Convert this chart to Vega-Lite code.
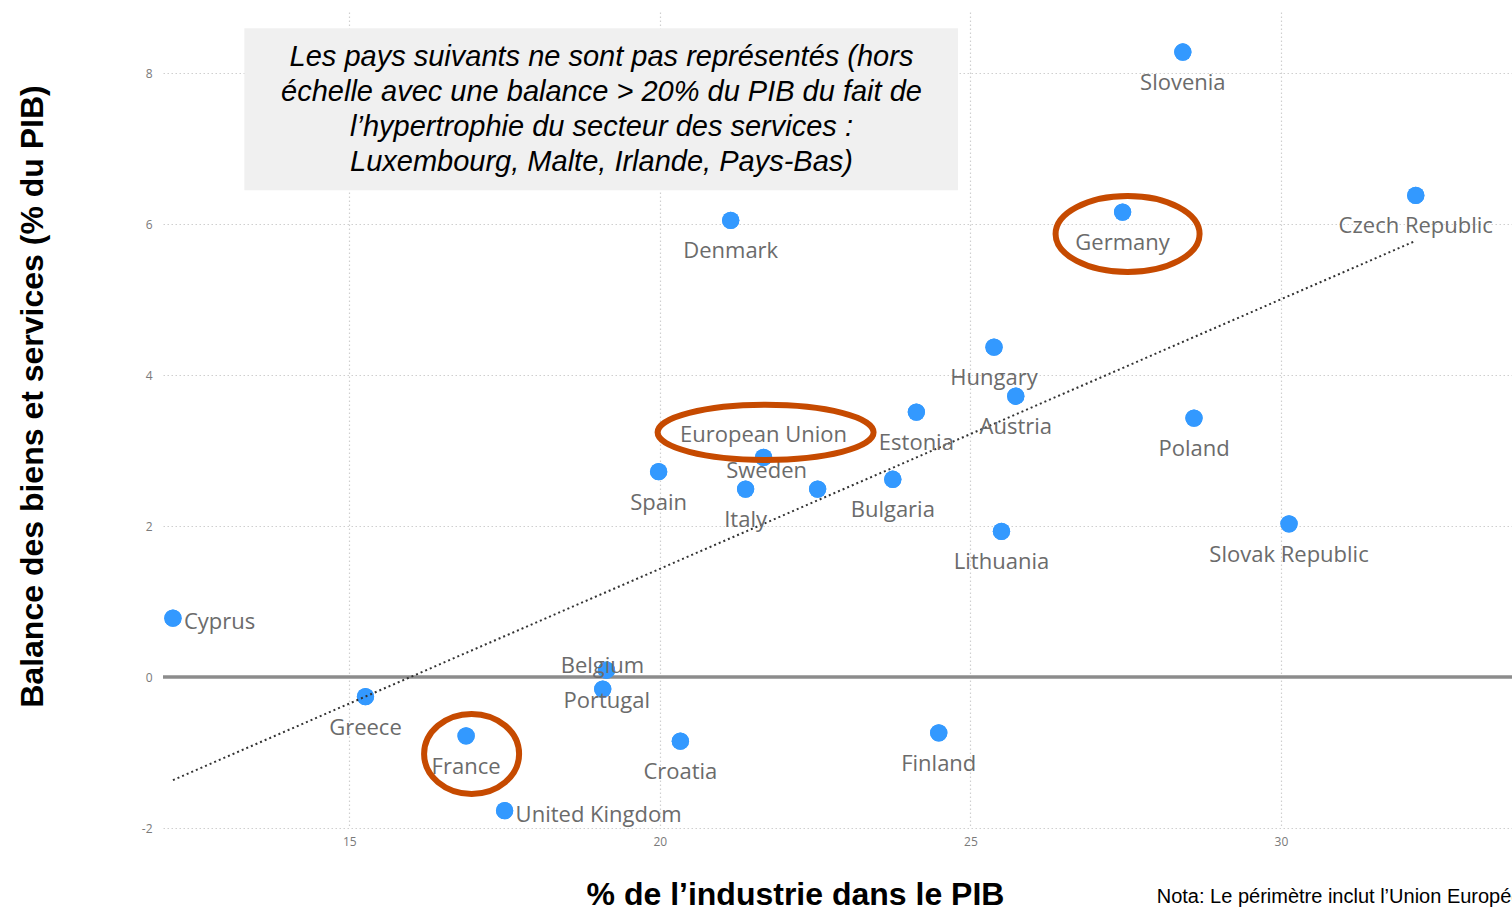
{
  "$schema": "https://vega.github.io/schema/vega-lite/v6.json",
  "width": 1349,
  "height": 816,
  "autosize": {"type": "none"},
  "padding": {"left": 163, "top": 12, "right": 0, "bottom": 81},
  "background": "white",
  "config": {
    "view": {"stroke": null},
    "font": "Open Sans",
    "axis": {
      "domain": false,
      "ticks": false,
      "labelFont": "Open Sans",
      "labelFontSize": 12,
      "labelColor": "#7a7a7a",
      "gridColor": "#cfcfcf",
      "gridDash": [1.5, 2.5],
      "gridWidth": 1.2,
      "titleFont": "Liberation Sans",
      "titleFontWeight": "bold",
      "titleFontSize": 32,
      "titleColor": "#000000"
    }
  },
  "datasets": {
    "countries": [
      {"country": "Slovenia", "industry": 28.42, "balance": 8.28},
      {"country": "Czech Republic", "industry": 32.17, "balance": 6.38},
      {"country": "Germany", "industry": 27.45, "balance": 6.16},
      {"country": "Denmark", "industry": 21.14, "balance": 6.05},
      {"country": "Hungary", "industry": 25.38, "balance": 4.37},
      {"country": "Austria", "industry": 25.73, "balance": 3.72},
      {"country": "Estonia", "industry": 24.13, "balance": 3.51},
      {"country": "Poland", "industry": 28.6, "balance": 3.43},
      {"country": "European Union", "industry": 21.67, "balance": 2.91},
      {"country": "Spain", "industry": 19.98, "balance": 2.72},
      {"country": "Bulgaria", "industry": 23.75, "balance": 2.62},
      {"country": "Italy", "industry": 21.38, "balance": 2.49},
      {"country": "Sweden", "industry": 22.54, "balance": 2.49},
      {"country": "Lithuania", "industry": 25.5, "balance": 1.93},
      {"country": "Slovak Republic", "industry": 30.13, "balance": 2.03},
      {"country": "Cyprus", "industry": 12.16, "balance": 0.78},
      {"country": "Belgium", "industry": 19.14, "balance": 0.09},
      {"country": "Portugal", "industry": 19.08, "balance": -0.16},
      {"country": "Greece", "industry": 15.26, "balance": -0.26},
      {"country": "France", "industry": 16.88, "balance": -0.78},
      {"country": "Croatia", "industry": 20.33, "balance": -0.85},
      {"country": "Finland", "industry": 24.49, "balance": -0.74},
      {"country": "United Kingdom", "industry": 17.5, "balance": -1.77}
    ]
  },
  "layer": [
    {
      "data": {"name": "countries"},
      "mark": {"type": "point", "filled": true, "opacity": 1, "size": 300, "color": "#3399ff"},
      "encoding": {
        "x": {
          "field": "industry", "type": "quantitative",
          "scale": {"domain": [12, 33.72], "nice": false, "zero": false},
          "axis": {
            "values": [15, 20, 25, 30],
            "labelExpr": "'' + datum.value",
            "labelPadding": 8,
            "title": "% de l’industrie dans le PIB",
            "titleX": 632, "titleY": 76,
            "titleAlign": "center", "titleBaseline": "alphabetic"
          }
        },
        "y": {
          "field": "balance", "type": "quantitative",
          "scale": {"domain": [-2, 8.81], "nice": false, "zero": false},
          "axis": {
            "values": [-2, 0, 2, 4, 6, 8],
            "labelExpr": "'' + datum.value",
            "labelPadding": 11,
            "title": "Balance des biens et services (% du PIB)",
            "titleX": -121, "titleY": 384, "titleAngle": -90,
            "titleAlign": "center", "titleBaseline": "alphabetic"
          }
        }
      }
    },
    {
      "data": {"values": [{}]},
      "mark": {"type": "rect", "color": "#f0f0f0"},
      "encoding": {
        "x": {"datum": 13.31, "type": "quantitative"},
        "x2": {"datum": 24.8},
        "y": {"datum": 8.596, "type": "quantitative"},
        "y2": {"datum": 6.45}
      }
    },
    {
      "data": {"values": [{}]},
      "mark": {
        "type": "text",
        "text": ["Les pays suivants ne sont pas représentés (hors", "échelle avec une balance > 20% du PIB du fait de", "l’hypertrophie du secteur des services :", "Luxembourg, Malte, Irlande, Pays-Bas)"],
        "font": "Liberation Sans", "fontStyle": "italic", "fontSize": 29, "lineHeight": 35,
        "align": "center", "baseline": "middle", "color": "#000000"
      },
      "encoding": {
        "x": {"datum": 19.06, "type": "quantitative"},
        "y": {"datum": 8.212, "type": "quantitative"}
      }
    },
    {
      "data": {"values": [{}]},
      "mark": {"type": "rule", "color": "#8c8c8c", "strokeWidth": 3.5},
      "encoding": {"y": {"datum": 0, "type": "quantitative"}}
    },
    {
      "data": {"name": "countries"},
      "mark": {"type": "point", "filled": true, "opacity": 1, "size": 300, "color": "#3399ff"},
      "encoding": {
        "x": {"field": "industry", "type": "quantitative"},
        "y": {"field": "balance", "type": "quantitative"}
      }
    },
    {
      "data": {"name": "countries"},
      "transform": [{"regression": "balance", "on": "industry"}],
      "mark": {"type": "line", "color": "#333333", "strokeWidth": 2, "strokeDash": [2, 3]},
      "encoding": {
        "x": {"field": "industry", "type": "quantitative"},
        "y": {"field": "balance", "type": "quantitative"}
      }
    },
    {
      "data": {"name": "countries"},
      "transform": [{"filter": {"field": "country", "oneOf": ["Slovenia", "Czech Republic", "Germany", "Denmark", "Hungary", "Austria", "Estonia", "Poland", "Spain", "Bulgaria", "Italy", "Lithuania", "Slovak Republic", "Greece", "France", "Croatia", "Finland"]}}],
      "mark": {"type": "text", "font": "Open Sans", "fontSize": 22, "color": "#6b6b6b", "align": "center", "baseline": "middle", "dy": 31},
      "encoding": {
        "x": {"field": "industry", "type": "quantitative"},
        "y": {"field": "balance", "type": "quantitative"},
        "text": {"field": "country"}
      }
    },
    {
      "data": {"name": "countries"},
      "transform": [{"filter": {"field": "country", "equal": "European Union"}}],
      "mark": {"type": "text", "font": "Open Sans", "fontSize": 22, "color": "#6b6b6b", "align": "center", "baseline": "middle", "dy": -22},
      "encoding": {
        "x": {"field": "industry", "type": "quantitative"},
        "y": {"field": "balance", "type": "quantitative"},
        "text": {"field": "country"}
      }
    },
    {
      "data": {"name": "countries"},
      "transform": [{"filter": {"field": "country", "equal": "Sweden"}}],
      "mark": {"type": "text", "font": "Open Sans", "fontSize": 22, "color": "#6b6b6b", "align": "center", "baseline": "middle", "dx": -51, "dy": -18},
      "encoding": {
        "x": {"field": "industry", "type": "quantitative"},
        "y": {"field": "balance", "type": "quantitative"},
        "text": {"field": "country"}
      }
    },
    {
      "data": {"name": "countries"},
      "transform": [{"filter": {"field": "country", "oneOf": ["Cyprus", "United Kingdom"]}}],
      "mark": {"type": "text", "font": "Open Sans", "fontSize": 22, "color": "#6b6b6b", "align": "left", "baseline": "middle", "dx": 11, "dy": 4},
      "encoding": {
        "x": {"field": "industry", "type": "quantitative"},
        "y": {"field": "balance", "type": "quantitative"},
        "text": {"field": "country"}
      }
    },
    {
      "data": {"name": "countries"},
      "transform": [{"filter": {"field": "country", "equal": "Belgium"}}],
      "mark": {"type": "text", "font": "Open Sans", "fontSize": 22, "color": "#6b6b6b", "align": "center", "baseline": "middle", "dx": -4, "dy": -4},
      "encoding": {
        "x": {"field": "industry", "type": "quantitative"},
        "y": {"field": "balance", "type": "quantitative"},
        "text": {"field": "country"}
      }
    },
    {
      "data": {"name": "countries"},
      "transform": [{"filter": {"field": "country", "equal": "Portugal"}}],
      "mark": {"type": "text", "font": "Open Sans", "fontSize": 22, "color": "#6b6b6b", "align": "center", "baseline": "middle", "dx": 4, "dy": 12},
      "encoding": {
        "x": {"field": "industry", "type": "quantitative"},
        "y": {"field": "balance", "type": "quantitative"},
        "text": {"field": "country"}
      }
    },
    {
      "data": {"name": "countries"},
      "transform": [{"filter": {"field": "country", "equal": "Germany"}}],
      "mark": {"type": "point", "filled": false, "opacity": 1, "color": "#c64a00", "strokeWidth": 6, "size": 20736, "xOffset": 5, "yOffset": 22,
        "shape": "M -1 0 C -1 -0.2916 -0.5523 -0.528 0 -0.528 C 0.5523 -0.528 1 -0.2916 1 0 C 1 0.2916 0.5523 0.528 0 0.528 C -0.5523 0.528 -1 0.2916 -1 0 Z"},
      "encoding": {
        "x": {"field": "industry", "type": "quantitative"},
        "y": {"field": "balance", "type": "quantitative"}
      }
    },
    {
      "data": {"name": "countries"},
      "transform": [{"filter": {"field": "country", "equal": "European Union"}}],
      "mark": {"type": "point", "filled": false, "opacity": 1, "color": "#c64a00", "strokeWidth": 6, "size": 46656, "xOffset": 2, "yOffset": -25,
        "shape": "M -1 0 C -1 -0.1408 -0.5523 -0.255 0 -0.255 C 0.5523 -0.255 1 -0.1408 1 0 C 1 0.1408 0.5523 0.255 0 0.255 C -0.5523 0.255 -1 0.1408 -1 0 Z"},
      "encoding": {
        "x": {"field": "industry", "type": "quantitative"},
        "y": {"field": "balance", "type": "quantitative"}
      }
    },
    {
      "data": {"name": "countries"},
      "transform": [{"filter": {"field": "country", "equal": "France"}}],
      "mark": {"type": "point", "filled": false, "opacity": 1, "color": "#c64a00", "strokeWidth": 6, "size": 9025, "xOffset": 5.5, "yOffset": 18,
        "shape": "M -1 0 C -1 -0.465 -0.5523 -0.842 0 -0.842 C 0.5523 -0.842 1 -0.465 1 0 C 1 0.465 0.5523 0.842 0 0.842 C -0.5523 0.842 -1 0.465 -1 0 Z"},
      "encoding": {
        "x": {"field": "industry", "type": "quantitative"},
        "y": {"field": "balance", "type": "quantitative"}
      }
    },
    {
      "data": {"values": [{}]},
      "mark": {"type": "text", "text": "Nota: Le périmètre inclut l’Union Européenne", "font": "Liberation Sans", "fontSize": 20, "color": "#000000", "align": "left", "baseline": "middle"},
      "encoding": {
        "x": {"datum": 28.0, "type": "quantitative"},
        "y": {"datum": -2.914, "type": "quantitative"}
      }
    }
  ]
}
